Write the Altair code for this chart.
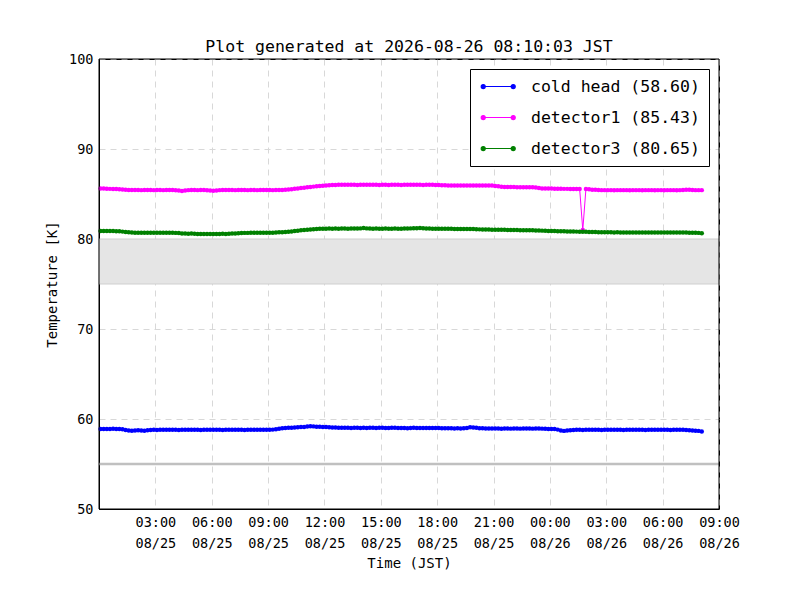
import altair as alt
import pandas as pd

# ---------------- data ----------------
series_names = ["cold head", "detector1", "detector3"]
series_colors = ["#0000ff", "#ff00ff", "#008000"]
start_time = "2026-08-25T00:05:00"   # first sample, samples every 10 minutes

cold_head = [
    58.90, 58.90, 58.89, 58.90, 58.91, 58.90,
    58.90, 58.86, 58.78, 58.72, 58.70, 58.73,
    58.76, 58.72, 58.70, 58.74, 58.78, 58.80,
    58.79, 58.80, 58.80, 58.81, 58.80, 58.80,
    58.80, 58.79, 58.80, 58.80, 58.80, 58.81,
    58.80, 58.80, 58.79, 58.80, 58.80, 58.80,
    58.81, 58.80, 58.80, 58.79, 58.80, 58.80,
    58.80, 58.80, 58.81, 58.80, 58.79, 58.80,
    58.80, 58.80, 58.80, 58.81, 58.80, 58.80,
    58.80, 58.82, 58.86, 58.92, 58.96, 59.00,
    59.02, 59.04, 59.06, 59.08, 59.10, 59.12,
    59.16, 59.20, 59.18, 59.15, 59.13, 59.12,
    59.10, 59.08, 59.06, 59.05, 59.04, 59.03,
    59.02, 59.02, 59.01, 59.02, 59.02, 59.01,
    59.02, 59.01, 59.02, 59.02, 59.01, 59.02,
    59.02, 59.00, 59.01, 59.02, 59.02, 59.01,
    59.00, 59.00, 58.98, 59.00, 59.02, 59.00,
    59.00, 59.01, 59.00, 58.99, 59.00, 59.00,
    59.00, 58.98, 58.96, 58.97, 58.96, 58.95,
    58.96, 58.95, 58.96, 59.00, 59.08, 59.06,
    59.02, 58.98, 58.96, 58.95, 58.94, 58.94,
    58.95, 58.94, 58.92, 58.94, 58.94, 58.93,
    58.94, 58.94, 58.93, 58.94, 58.94, 58.94,
    58.93, 58.94, 58.94, 58.93, 58.92, 58.90,
    58.90, 58.88, 58.82, 58.72, 58.68, 58.72,
    58.76, 58.78, 58.80, 58.80, 58.79, 58.80,
    58.80, 58.81, 58.80, 58.80, 58.79, 58.80,
    58.80, 58.80, 58.81, 58.80, 58.80, 58.79,
    58.80, 58.80, 58.80, 58.81, 58.80, 58.80,
    58.79, 58.80, 58.80, 58.80, 58.81, 58.80,
    58.80, 58.80, 58.79, 58.80, 58.80, 58.80,
    58.80, 58.78, 58.75, 58.72, 58.70, 58.68,
    58.60,
]

detector1 = [
    85.62, 85.60, 85.58, 85.57, 85.56, 85.56,
    85.54, 85.50, 85.46, 85.44, 85.44, 85.44,
    85.44, 85.43, 85.44, 85.44, 85.44, 85.43,
    85.44, 85.44, 85.43, 85.44, 85.44, 85.44,
    85.42, 85.38, 85.34, 85.40, 85.43, 85.44,
    85.44, 85.43, 85.44, 85.44, 85.42, 85.40,
    85.36, 85.40, 85.43, 85.44, 85.44, 85.44,
    85.44, 85.43, 85.44, 85.44, 85.44, 85.43,
    85.44, 85.44, 85.43, 85.44, 85.44, 85.44,
    85.44, 85.43, 85.44, 85.44, 85.45, 85.46,
    85.50, 85.54, 85.58, 85.62, 85.66, 85.70,
    85.74, 85.78, 85.82, 85.86, 85.90, 85.92,
    85.95, 85.98, 86.00, 86.01, 86.02, 86.02,
    86.02, 86.03, 86.02, 86.02, 86.01, 86.02,
    86.02, 86.02, 86.03, 86.02, 86.02, 86.01,
    86.02, 86.02, 86.01, 86.02, 86.02, 86.02,
    86.01, 86.02, 86.02, 86.03, 86.02, 86.02,
    86.02, 86.01, 86.02, 86.02, 86.02, 86.01,
    86.00, 85.98, 85.96, 85.95, 85.95, 85.94,
    85.95, 85.95, 85.94, 85.95, 85.95, 85.95,
    85.94, 85.95, 85.95, 85.94, 85.95, 85.94,
    85.90, 85.85, 85.80, 85.78, 85.78, 85.77,
    85.77, 85.76, 85.76, 85.75, 85.76, 85.75,
    85.74, 85.72, 85.66, 85.62, 85.60, 85.60,
    85.60, 85.59, 85.58, 85.58, 85.57, 85.57,
    85.56, 85.56, 85.55, 85.55, 81.00, 85.55,
    85.52, 85.48, 85.46, 85.44, 85.43, 85.43,
    85.43, 85.43, 85.42, 85.43, 85.43, 85.43,
    85.43, 85.42, 85.43, 85.43, 85.43, 85.42,
    85.43, 85.43, 85.43, 85.42, 85.43, 85.43,
    85.42, 85.43, 85.43, 85.43, 85.42, 85.43,
    85.44, 85.48, 85.46, 85.44, 85.43, 85.43,
    85.43,
]

detector3 = [
    80.90, 80.90, 80.89, 80.90, 80.88, 80.87,
    80.86, 80.82, 80.78, 80.74, 80.72, 80.70,
    80.70, 80.70, 80.69, 80.70, 80.70, 80.70,
    80.70, 80.69, 80.70, 80.70, 80.70, 80.69,
    80.68, 80.66, 80.62, 80.60, 80.58, 80.60,
    80.58, 80.56, 80.56, 80.55, 80.56, 80.55,
    80.56, 80.55, 80.56, 80.58, 80.56, 80.58,
    80.60, 80.62, 80.64, 80.66, 80.68, 80.68,
    80.70, 80.70, 80.70, 80.69, 80.70, 80.70,
    80.70, 80.70, 80.72, 80.74, 80.76, 80.78,
    80.80, 80.84, 80.88, 80.92, 80.96, 81.00,
    81.03, 81.06, 81.09, 81.12, 81.14, 81.15,
    81.15, 81.16, 81.15, 81.16, 81.15, 81.16,
    81.16, 81.15, 81.16, 81.16, 81.17, 81.18,
    81.22, 81.18, 81.16, 81.15, 81.16, 81.15,
    81.15, 81.16, 81.15, 81.15, 81.16, 81.15,
    81.15, 81.16, 81.17, 81.18, 81.19, 81.20,
    81.22, 81.20, 81.17, 81.16, 81.15, 81.15,
    81.14, 81.14, 81.13, 81.14, 81.13, 81.12,
    81.12, 81.11, 81.12, 81.10, 81.11, 81.10,
    81.08, 81.07, 81.06, 81.06, 81.05, 81.04,
    81.04, 81.03, 81.02, 81.02, 81.01, 81.00,
    81.00, 80.99, 80.98, 80.98, 80.97, 80.96,
    80.96, 80.95, 80.94, 80.93, 80.92, 80.90,
    80.89, 80.88, 80.87, 80.86, 80.85, 80.84,
    80.84, 80.83, 80.82, 80.81, 80.80, 80.80,
    80.79, 80.78, 80.77, 80.76, 80.76, 80.75,
    80.74, 80.74, 80.73, 80.74, 80.73, 80.73,
    80.72, 80.73, 80.73, 80.72, 80.73, 80.72,
    80.72, 80.73, 80.72, 80.72, 80.73, 80.72,
    80.72, 80.72, 80.73, 80.72, 80.72, 80.72,
    80.72, 80.71, 80.70, 80.70, 80.69, 80.68,
    80.65,
]

band_low, band_high = 75, 80
ref_line = 55
y_min, y_max = 50, 100
x_start, x_end = "2026-08-25T00:00:00", "2026-08-26T09:00:00"
y_ticks = [50, 60, 70, 80, 90, 100]
title_text = "Plot generated at 2026-08-26 08:10:03 JST"

# ---------------- build table ----------------
times = pd.date_range(start_time, periods=len(cold_head), freq="10min").strftime("%Y-%m-%dT%H:%M:%S")
rows = []
labels = []
for name, vals in zip(series_names, [cold_head, detector1, detector3]):
    lab = f"{name} ({vals[-1]:.2f})"
    labels.append(lab)
    for t, v in zip(times, vals):
        rows.append({"time": t, "value": v, "series": lab})
df = pd.DataFrame(rows)

FONT = "DejaVu Sans Mono"
Y_TITLE = "Temperature [K]"
X_TITLE = "Time (JST)"

x_ticks = [alt.DateTime(year=2026, month=8, date=25, hours=h) for h in (3, 6, 9, 12, 15, 18, 21)] + \
          [alt.DateTime(year=2026, month=8, date=26, hours=h) for h in (0, 3, 6, 9)]
x_domain = [alt.DateTime(year=2026, month=8, date=25, hours=0),
            alt.DateTime(year=2026, month=8, date=26, hours=9)]

y_scale = alt.Scale(domain=[y_min, y_max], nice=False, zero=False)
x_scale = alt.Scale(domain=x_domain)

# line with a dot at each end; drawn to the right of the symbol centre
legend_path = ("M-0.57,0H3.43"
               "M-0.84,0a0.27,0.27 0 1,0 0.54,0a0.27,0.27 0 1,0 -0.54,0"
               "M3.16,0a0.27,0.27 0 1,0 0.54,0a0.27,0.27 0 1,0 -0.54,0")

color = alt.Color(
    "series:N",
    scale=alt.Scale(domain=labels, range=series_colors),
    legend=alt.Legend(
        title=None, orient="top-right", offset=10,
        symbolType=legend_path, symbolSize=225, symbolStrokeWidth=1.2,
        labelFont=FONT, labelFontSize=16.5, labelColor="black", labelOffset=35,
        labelLimit=0, rowPadding=14, padding=9,
        strokeColor="black", fillColor="white", cornerRadius=0,
    ),
)

x_enc = alt.X(
    "time:T",
    scale=x_scale,
    axis=alt.Axis(
        values=x_ticks, title=X_TITLE,
        labelExpr="[timeFormat(datum.value, '%H:%M'), timeFormat(datum.value, '%m/%d')]",
        labelLineHeight=21, labelPadding=6, labelAlign="center", labelBaseline="top",
        titlePadding=7,
    ),
)

y_enc = alt.Y(
    "value:Q", scale=y_scale,
    axis=alt.Axis(values=y_ticks, title=Y_TITLE, labelPadding=6, titlePadding=9),
)

band = alt.Chart(pd.DataFrame({"lo": [band_low], "hi": [band_high]})).mark_rect(
    color="#e5e5e5", stroke="#cfcfcf", strokeWidth=1
).encode(
    y=alt.Y("lo:Q", scale=y_scale, title=Y_TITLE),
    y2="hi:Q",
)

rule = alt.Chart(pd.DataFrame({"v": [ref_line]})).mark_rule(
    color="#c0c0c0", strokeWidth=2.5
).encode(y=alt.Y("v:Q", scale=y_scale, title=Y_TITLE))

lines = alt.Chart(df).mark_line(strokeWidth=1).encode(x=x_enc, y=y_enc, color=color)
points = alt.Chart(df).mark_circle(size=20, opacity=1).encode(x=x_enc, y=y_enc, color=color)

frame = alt.Chart(pd.DataFrame({"t0": [x_start], "t1": [x_end], "v0": [y_min], "v1": [y_max]})).mark_rect(
    fillOpacity=0, stroke="black", strokeWidth=1
).encode(
    x=alt.X("t0:T", scale=x_scale, title=X_TITLE),
    x2="t1:T",
    y=alt.Y("v0:Q", scale=y_scale, title=Y_TITLE),
    y2="v1:Q",
)

chart = alt.layer(band, rule, lines, points, frame).properties(
    width=620, height=450,
    title=alt.TitleParams(title_text, font=FONT, fontSize=16.5, fontWeight="normal",
                          color="black", offset=-3, anchor="middle"),
    autosize=alt.AutoSizeParams(type="none"),
    padding={"left": 91, "top": 51, "right": 73, "bottom": 83},
).configure(
    background="white"
).configure_view(
    stroke="black", strokeWidth=1
).configure_axis(
    labelFont=FONT, labelFontSize=13.5, labelColor="black",
    titleFont=FONT, titleFontSize=14, titleFontWeight="normal", titleColor="black",
    domainColor="black", domainWidth=1,
    ticks=False,
    grid=True, gridColor="#d8d8d8", gridDash=[6, 5], gridWidth=1,
)

chart.save("out.html", embed_options={"renderer": "svg", "actions": False})
